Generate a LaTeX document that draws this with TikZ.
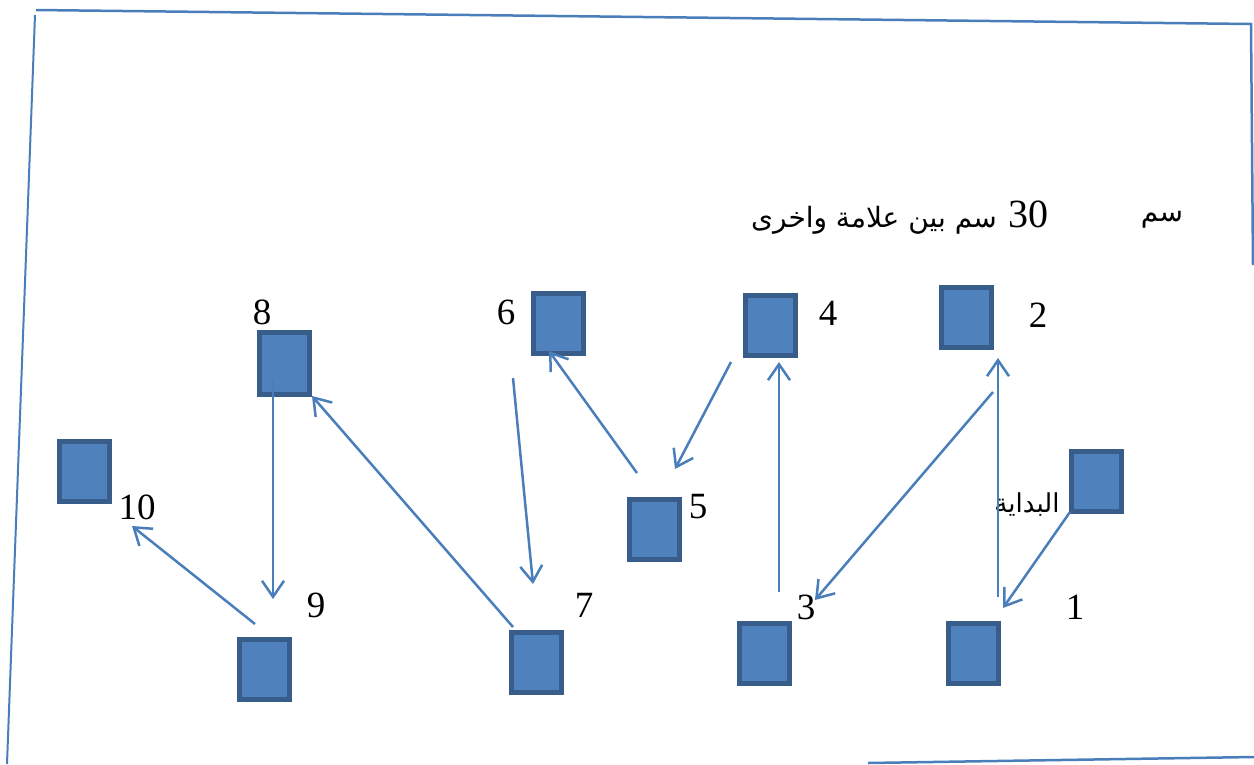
\documentclass[tikz,border=0pt]{standalone}
\usepackage{fontspec}
\setmainfont{Liberation Serif}
\newfontfamily\arabicfont[Script=Arabic]{DejaVu Sans}
\TeXXeTstate=1
\usetikzlibrary{arrows.meta}
\definecolor{boxfill}{HTML}{4F81BD}
\definecolor{boxline}{HTML}{385D8A}
\definecolor{linec}{HTML}{4A7EBB}
\begin{document}
\begin{tikzpicture}[x=1pt,y=-1pt,
  box/.style={draw=boxline, fill=boxfill, line width=5pt, minimum width=50pt, minimum height=60pt, inner sep=0pt},
  num/.style={font=\fontsize{37}{40}\selectfont, inner sep=0pt},
  conn/.style={draw=linec, line width=2.5pt, -{Straight Barb[length=16pt,width=22pt]}},
  framel/.style={draw=linec, line width=2.5pt}]
\useasboundingbox (0,0) rectangle (1254,764);
% frame
\draw[framel] (36,10) -- (1251,24) -- (1253,265);
\draw[framel, line width=2pt] (35,15) -- (7,764);
\draw[framel] (868,763) -- (1254,757);
% boxes
\node[box] (bs) at (1096,481) {};
\node[box] (b1) at (973,653) {};
\node[box] (b2) at (966,317) {};
\node[box] (b3) at (764,653) {};
\node[box] (b4) at (770,325) {};
\node[box] (b5) at (654,529) {};
\node[box] (b6) at (558,323) {};
\node[box] (b7) at (536,662) {};
\node[box, minimum height=62pt] (b8) at (284,363) {};
\node[box] (b9) at (264,669) {};
\node[box] (b10) at (84,471) {};
% labels
\node[num] (l1) at (1075,607) {1};
\node[num] (l2) at (1038,315) {2};
\node[num] (l3) at (806,607) {3};
\node[num] (l4) at (828,313) {4};
\node[num] (l5) at (698,507) {5};
\node[num] (l6) at (506,312) {6};
\node[num] (l7) at (584,605) {7};
\node[num] (l8) at (262,312) {8};
\node[num] (l9) at (316,605) {9};
\node[num] (l10) at (137,507) {10};
% texts
\node[inner sep=0pt] (tcm) at (1162,220) {\arabicfont\fontsize{28}{32}\selectfont\beginR سم\endR};
\node[inner sep=0pt] (thead) at (900,218) {\fontsize{28}{32}\selectfont\beginR{\fontsize{40}{44}\selectfont\beginL 30\endL}\hspace{12pt}{\arabicfont سم بين علامة واخرى}\endR};
\node[inner sep=0pt] (tstart) at (1027,505) {\arabicfont\fontsize{26}{30}\selectfont\beginR البداية\endR};
% connector end points
\coordinate (s1a) at (1070,512); \coordinate (s1b) at (1003,608);
\coordinate (c12a) at (998,597); \coordinate (c12b) at (998,358);
\coordinate (c23a) at (993,392); \coordinate (c23b) at (815,600);
\coordinate (c34a) at (779,592); \coordinate (c34b) at (779,362);
\coordinate (c45a) at (731,362); \coordinate (c45b) at (675,469);
\coordinate (c56a) at (637,473); \coordinate (c56b) at (549,351);
\coordinate (c67a) at (513,378); \coordinate (c67b) at (533,584);
\coordinate (c78a) at (513,627); \coordinate (c78b) at (312,396);
\coordinate (c89a) at (273,380); \coordinate (c89b) at (273,599);
\coordinate (c910a) at (255,624); \coordinate (c910b) at (132,526);
% connectors
\draw[conn] (s1a) -- (s1b);
\draw[conn] (c12a) -- (c12b);
\draw[conn] (c23a) -- (c23b);
\draw[conn] (c34a) -- (c34b);
\draw[conn] (c45a) -- (c45b);
\draw[conn] (c56a) -- (c56b);
\draw[conn] (c67a) -- (c67b);
\draw[conn] (c78a) -- (c78b);
\draw[conn] (c89a) -- (c89b);
\draw[conn] (c910a) -- (c910b);
\end{tikzpicture}
\end{document}
